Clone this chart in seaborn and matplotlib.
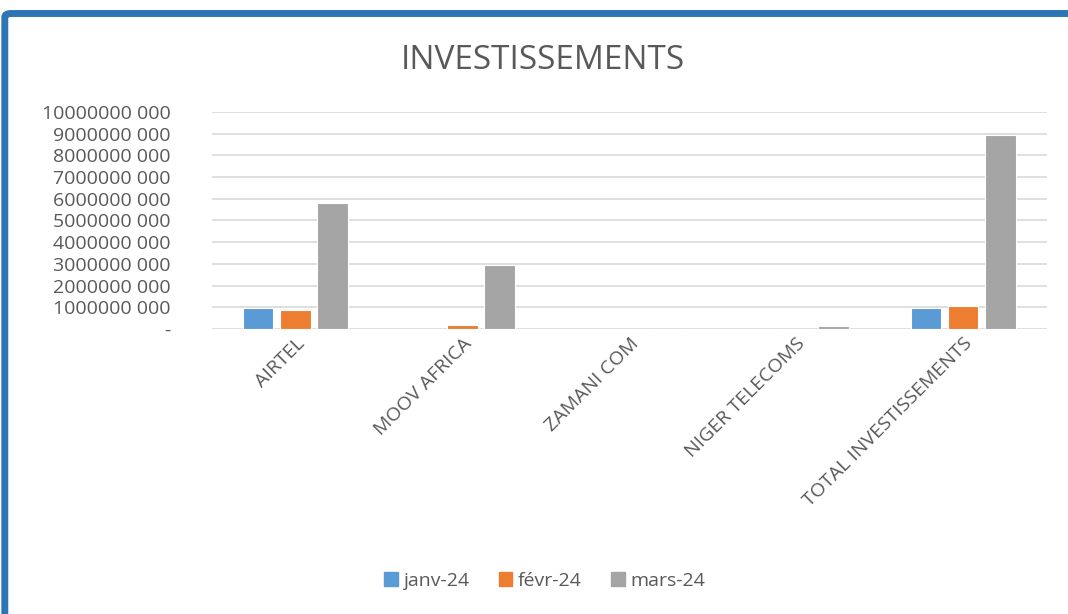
import matplotlib
matplotlib.use("Agg")
import matplotlib.pyplot as plt
from matplotlib.patches import FancyBboxPatch
import seaborn as sns
import pandas as pd

# Data
operators = ["AIRTEL", "MOOV AFRICA", "ZAMANI COM", "NIGER TELECOMS", "TOTAL INVESTISSEMENTS"]
months = ["janv-24", "févr-24", "mars-24"]
janv = [0.97e9, 0.0, 0.0, 0.0, 0.97e9]
fevr = [0.88e9, 0.20e9, 0.0, 0.0, 1.08e9]
mars = [5.82e9, 2.97e9, 0.0, 0.12e9, 8.93e9]
ytick_vals = [i * 1e9 for i in range(11)]
ytick_labels = ["-"] + [f"{i}000000 000" for i in range(1, 11)]
colors = ["#5B9BD5", "#ED7D31", "#A5A5A5"]

df = pd.DataFrame({
    "operator": operators * 3,
    "month": [m for m in months for _ in operators],
    "value": janv + fevr + mars,
})

sns.set_theme(style="white")
plt.rcParams["font.family"] = ["Open Sans", "DejaVu Sans"]
text_col = "#595959"

fig = plt.figure(figsize=(10.68, 6.14), dpi=100)

# blue frame round the chart (only top and left edges are visible)
frame = FancyBboxPatch((0.0045, -0.2), 1.2, 1.178, boxstyle="round,pad=0,rounding_size=0.006",
                       transform=fig.transFigure, facecolor="white", edgecolor="#2E75B6",
                       linewidth=5, zorder=-10)
fig.patches.append(frame)

ax = fig.add_axes([0.1985, 0.4642, 0.7815, 0.3534])
ax.set_facecolor("none")
sns.barplot(data=df, x="operator", y="value", hue="month", palette=colors,
            width=0.67, gap=0.18, ax=ax, legend=False, zorder=3,
            saturation=1, edgecolor="white", linewidth=0.8)

ax.set_ylim(0, 1e10)
ax.set_yticks(ytick_vals)
ax.set_yticklabels(ytick_labels, fontsize=14, color=text_col)
ax.yaxis.grid(True, color="#D9D9D9", linewidth=1.2, zorder=0)
ax.set_axisbelow(True)
for s in ax.spines.values():
    s.set_visible(False)
ax.tick_params(axis="y", length=0, pad=30)
ax.tick_params(axis="x", length=0, pad=4)
ax.set_xticks(range(len(operators)))
ax.set_xticklabels(operators, rotation=45, ha="right", rotation_mode="anchor",
                   fontsize=14, color=text_col)
ax.set_xlabel("")
ax.set_ylabel("")

fig.text(0.508, 0.901, "INVESTISSEMENTS", ha="center", va="center",
         fontsize=24, color=text_col)

handles = [plt.Rectangle((0, 0), 1, 1, color=c) for c in colors]
fig.legend(handles, months, loc="center", bbox_to_anchor=(0.51, 0.054), ncol=3,
           frameon=False, fontsize=14, labelcolor=text_col, handlelength=0.7,
           handleheight=0.7, handletextpad=0.3, columnspacing=1.5)

fig.savefig("out.png", dpi=100)
